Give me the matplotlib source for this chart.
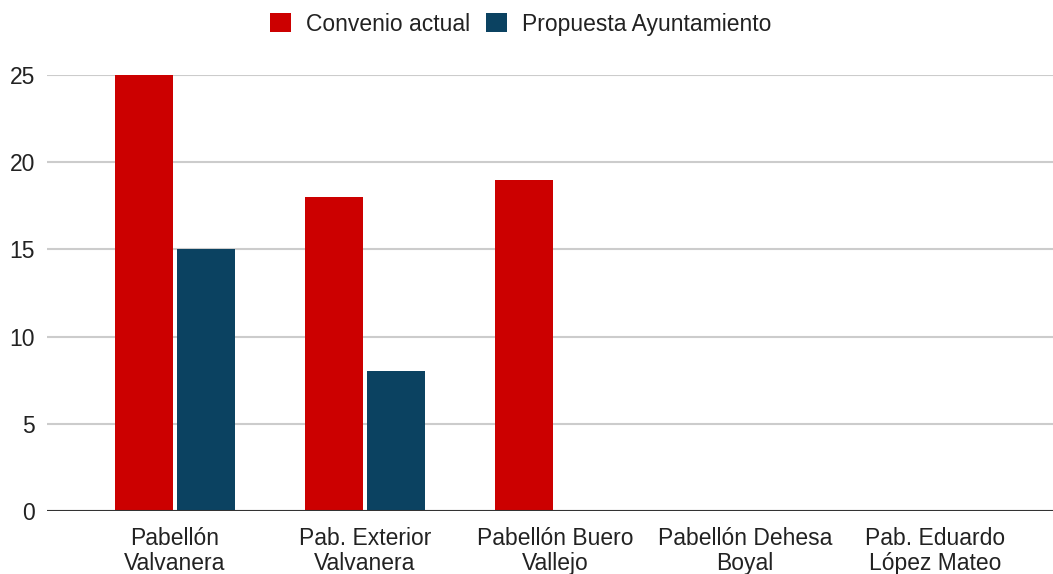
import numpy as np
import matplotlib
matplotlib.use('Agg')
import matplotlib.pyplot as plt

plt.rc('font', family=['Liberation Sans', 'DejaVu Sans'], size=16.5)

categories = ['Pabellón\nValvanera', 'Pab. Exterior\nValvanera', 'Pabellón Buero\nVallejo',
              'Pabellón Dehesa\nBoyal', 'Pab. Eduardo\nLópez Mateo']
convenio = [25, 18, 19, 0, 0]
propuesta = [15, 8, 0, 0, 0]
series_names = ['Convenio actual', 'Propuesta Ayuntamiento']
colors = ['#cc0000', '#0b4261']

fig = plt.figure(figsize=(10.53, 5.74), dpi=100)
ax = fig.add_axes([47 / 1053, 1 - 511 / 574, 1 - 47 / 1053, (511 - 75) / 574])

x = np.arange(len(categories))
w = 0.305
off = 0.163
ax.bar(x - off, convenio, w, color=colors[0], label=series_names[0], zorder=3)
ax.bar(x + off, propuesta, w, color=colors[1], label=series_names[1], zorder=3)

ax.set_xlim(-0.674, 4.621)
ax.set_ylim(0, 25)
ax.set_yticks([0, 5, 10, 15, 20, 25])
ax.set_xticks(x)
ax.set_xticklabels(categories, linespacing=1.1)
ax.grid(axis='y', color='#cccccc', lw=1.5, zorder=0)
ax.axhline(0, color='#333333', lw=1.5, zorder=4)
for s in ax.spines.values():
    s.set_visible(False)
ax.tick_params(axis='both', length=0, colors='#222222')
ax.tick_params(axis='y', pad=8.6)
ax.tick_params(axis='x', pad=11.5)

fig.legend(loc='upper center', bbox_to_anchor=(0.4945, 1.014), ncol=2, frameon=False,
           handlelength=0.92, handleheight=0.92, handletextpad=0.65, columnspacing=0.7,
           labelcolor='#222222')

fig.savefig('out.png', dpi=100)
